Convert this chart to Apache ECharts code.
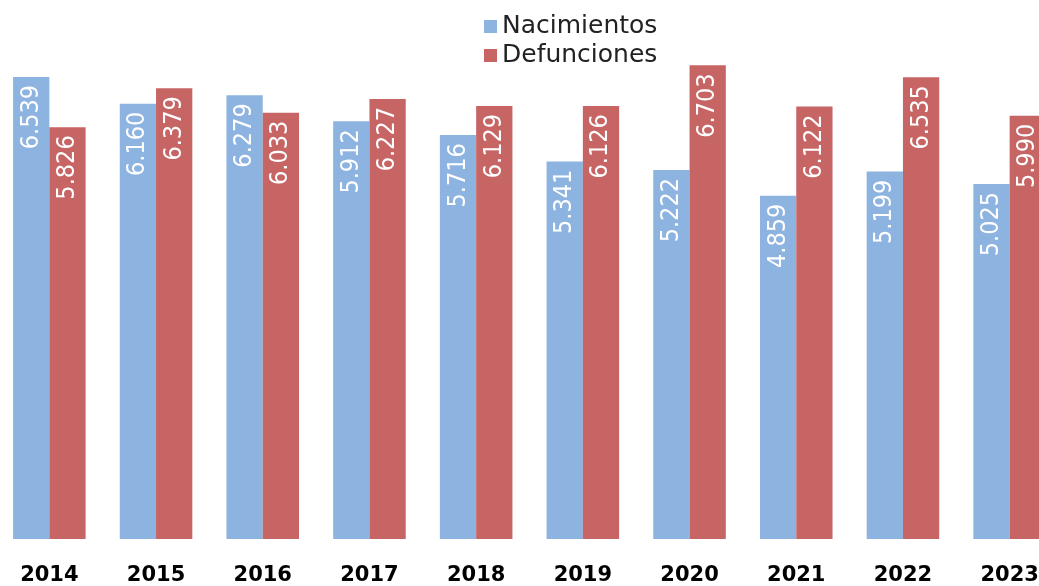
<!DOCTYPE html>
<html><head><meta charset="utf-8">
<script src="https://cdn.jsdelivr.net/npm/echarts@6/dist/echarts.min.js"></script>
<style>html,body{margin:0;padding:0;background:#fff;overflow:hidden}#c{width:1067px;height:586px;margin-left:-4px}</style>
</head><body><div id="c"></div>
<script>
const years = ['2014','2015','2016','2017','2018','2019','2020','2021','2022','2023'];
const nacimientos = [6.539,6.160,6.279,5.912,5.716,5.341,5.222,4.859,5.199,5.025];
const defunciones = [5.826,6.379,6.033,6.227,6.129,6.126,6.703,6.122,6.535,5.990];
const seriesNames = ['Nacimientos','Defunciones'];

const chart = echarts.init(document.getElementById('c'));
const lbl = {
  show: true, position: 'insideTop', rotate: 90, align: 'right', verticalAlign: 'middle',
  distance: 8, color: '#fff', fontSize: 25, fontWeight: 'normal',
  fontFamily: 'DejaVu Sans Condensed, DejaVu Sans, sans-serif',
  formatter: p => p.value.toFixed(3)
};
chart.setOption({
  animation: false,
  legend: {
    orient: 'vertical', left: 483, top: 9, itemWidth: 13, itemHeight: 13, itemGap: 4,
    itemTextGap: 5, icon: 'rect',
    textStyle: {fontSize: 25, color: '#222', fontFamily: 'DejaVu Sans, sans-serif'},
    data: seriesNames
  },
  grid: {left: 0, right: 0, top: 9, bottom: 46},
  xAxis: {
    type: 'category', data: years,
    axisLine: {show: false}, axisTick: {show: false},
    axisLabel: {fontSize: 21, fontWeight: 'bold', color: '#000', margin: 26, fontFamily: 'DejaVu Sans, sans-serif'}
  },
  yAxis: {type: 'value', min: 0, max: 7.5, show: false, splitLine: {show: false}},
  series: [
    {name: seriesNames[0], type: 'bar', data: nacimientos, barGap: '0%', barCategoryGap: '32%',
     itemStyle: {color: '#8db3e0'}, label: lbl},
    {name: seriesNames[1], type: 'bar', data: defunciones,
     itemStyle: {color: '#c76464'}, label: lbl}
  ]
});
</script></body></html>
